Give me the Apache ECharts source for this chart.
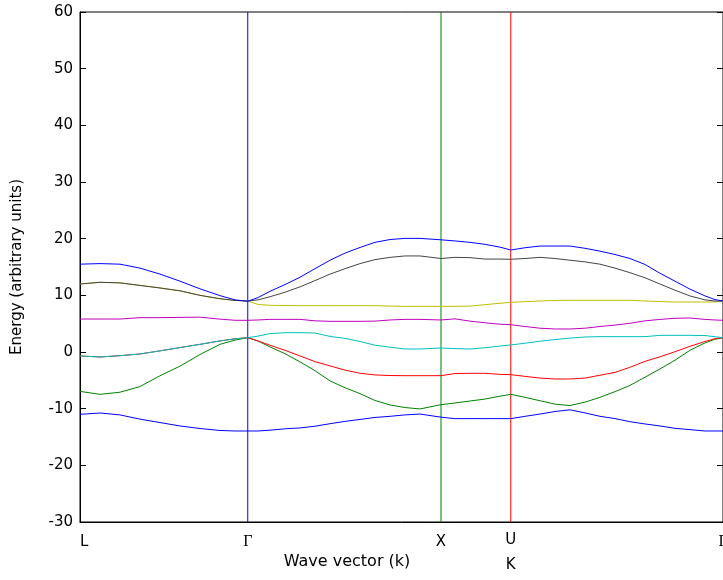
<!DOCTYPE html>
<html>
<head>
<meta charset="utf-8">
<script src="https://cdn.jsdelivr.net/npm/echarts@6/dist/echarts.min.js"></script>
<style>
  html, body { margin: 0; padding: 0; background: #fff; }
  #main { width: 723px; height: 580px; }
</style>
</head>
<body>
<div id="main"></div>
<script>
// path coordinate along L - Γ - X - U|K - Γ
var kPath = [0, 0.102, 0.204, 0.306, 0.408, 0.510, 0.612, 0.714, 0.791, 0.856,
  0.908, 0.969, 1.046, 1.123, 1.199, 1.276, 1.352, 1.429, 1.505, 1.582, 1.658, 1.735, 1.842,
  1.913, 1.990, 2.067, 2.143, 2.198,
  2.271, 2.347, 2.424, 2.500, 2.577, 2.653, 2.730, 2.806, 2.883, 2.959, 3.036, 3.112, 3.189, 3.240, 3.281];
var kTicks = [0, 0.856, 1.842, 2.198, 3.281];
var kLabels = ['L', 'Γ', 'X', 'U\nK', 'Γ'];
var energyTicks = [-30, 60, 10]; // min, max, step

// bands, lowest first
var band1 = [-11.0, -10.76, -11.1, -11.85, -12.45, -13.05, -13.5, -13.85, -13.94, -13.94,
  -13.94, -13.8, -13.55, -13.4, -13.1, -12.65, -12.25, -11.9, -11.55, -11.35, -11.1, -10.95, -11.5,
  -11.76, -11.76, -11.76, -11.76, -11.76,
  -11.35, -10.95, -10.5, -10.2, -10.75, -11.35, -11.75, -12.3, -12.7, -13.05, -13.47, -13.7, -13.94, -13.94, -13.94];
var band2 = [-6.95, -7.47, -7.1, -6.1, -4.2, -2.5, -0.45, 1.35, 2.1, 2.53,
  1.95, 0.9, -0.3, -1.75, -3.3, -5.1, -6.3, -7.35, -8.55, -9.35, -9.8, -10.05, -9.3,
  -9.0, -8.65, -8.3, -7.8, -7.47,
  -8.0, -8.6, -9.2, -9.45, -8.85, -8.0, -7.0, -5.9, -4.45, -3.0, -1.45, 0.3, 1.6, 2.25, 2.53];
var band3 = [-0.7, -0.88, -0.65, -0.35, 0.2, 0.78, 1.35, 1.95, 2.33, 2.53,
  1.95, 1.2, 0.3, -0.7, -1.7, -2.45, -3.2, -3.75, -4.05, -4.15, -4.18, -4.18, -4.18,
  -3.8, -3.76, -3.76, -3.95, -4.0,
  -4.3, -4.6, -4.76, -4.76, -4.6, -4.1, -3.6, -2.7, -1.65, -0.85, 0.05, 1.0, 1.85, 2.35, 2.53];
var band4 = [-0.7, -0.88, -0.65, -0.35, 0.2, 0.78, 1.35, 1.95, 2.33, 2.53,
  2.8, 3.25, 3.41, 3.41, 3.35, 2.75, 2.4, 1.85, 1.2, 0.85, 0.53, 0.53, 0.7,
  0.6, 0.53, 0.75, 1.05, 1.24,
  1.55, 1.9, 2.2, 2.45, 2.65, 2.71, 2.71, 2.71, 2.71, 2.94, 2.94, 2.94, 2.9, 2.7, 2.53];
var band5 = [5.82, 5.82, 5.82, 6.06, 6.06, 6.1, 6.15, 5.8, 5.6, 5.59,
  5.65, 5.76, 5.76, 5.76, 5.5, 5.41, 5.41, 5.41, 5.45, 5.65, 5.76, 5.76, 5.65,
  5.85, 5.45, 5.15, 4.9, 4.82,
  4.5, 4.2, 4.06, 4.06, 4.2, 4.5, 4.75, 5.06, 5.5, 5.75, 5.95, 6.0, 5.75, 5.65, 5.59];
var band6 = [12.0, 12.3, 12.2, 11.75, 11.3, 10.8, 10.0, 9.4, 9.1, 9.0,
  8.4, 8.24, 8.2, 8.18, 8.18, 8.18, 8.18, 8.18, 8.18, 8.1, 8.05, 8.06, 8.06,
  8.06, 8.1, 8.35, 8.6, 8.77,
  8.88, 9.0, 9.1, 9.12, 9.12, 9.12, 9.12, 9.12, 9.0, 8.9, 8.82, 8.82, 8.82, 8.85, 8.9];
var band7 = [12.0, 12.3, 12.2, 11.75, 11.3, 10.8, 10.0, 9.4, 9.1, 9.0,
  9.2, 9.75, 10.55, 11.5, 12.6, 13.75, 14.7, 15.6, 16.3, 16.7, 16.95, 16.95, 16.5,
  16.7, 16.65, 16.4, 16.4, 16.36,
  16.5, 16.7, 16.5, 16.2, 15.9, 15.5, 14.8, 14.0, 13.1, 12.0, 10.9, 9.9, 9.2, 9.0, 9.0];
var band8 = [15.5, 15.6, 15.5, 14.8, 13.75, 12.5, 11.15, 9.95, 9.2, 8.95,
  9.6, 10.7, 11.9, 13.2, 14.7, 16.2, 17.45, 18.45, 19.35, 19.85, 20.05, 20.05, 19.8,
  19.6, 19.35, 19.0, 18.5, 18.0,
  18.4, 18.7, 18.7, 18.7, 18.3, 17.8, 17.2, 16.5, 15.45, 13.9, 12.5, 11.1, 9.9, 9.25, 9.0];

var bands = [band1, band2, band3, band4, band5, band6, band7, band8];
var bandColors = ['#0000ff', '#008000', '#ff0000', '#00bfbf', '#bf00bf', '#bfbf00', '#444444', '#0000ff'];
var divideColors = ['#0000ff', '#008000', '#ff0000']; // at Γ, X, U|K

var mychart = echarts.init(document.getElementById('main'), null, { renderer: 'canvas' });

var series = [];

// vertical dividers at the inner symmetry points
[1, 2, 3].forEach(function (t, i) {
  series.push({
    type: 'line',
    symbol: 'none',
    silent: true,
    animation: false,
    data: [[kTicks[t], energyTicks[0]], [kTicks[t], energyTicks[1]]],
    lineStyle: { color: divideColors[i], width: 1 }
  });
});

bands.forEach(function (b, i) {
  series.push({
    type: 'line',
    symbol: 'none',
    silent: true,
    animation: false,
    data: kPath.map(function (k, j) { return [k, b[j]]; }),
    lineStyle: { color: bandColors[i], width: 1 }
  });
});

var tickFont = 'DejaVu Sans';

var option = {
  backgroundColor: '#fff',
  animation: false,
  grid: {
    left: 80, right: 0, top: 12, bottom: 58,
    outerBoundsMode: 'none',
    containLabel: false,
    show: true, borderColor: '#000', borderWidth: 1
  },
  xAxis: {
    type: 'value',
    min: kTicks[0],
    max: kTicks[kTicks.length - 1],
    axisLine: { show: true, onZero: false, lineStyle: { color: '#000', width: 1 } },
    axisTick: { show: false },
    splitLine: { show: false },
    axisLabel: {
      customValues: kTicks,
      margin: 11,
      alignMinLabel: 'left',
      color: '#000',
      fontSize: 15,
      fontFamily: tickFont,
      lineHeight: 18,
      formatter: function (v) {
        var idx = 0;
        for (var i = 0; i < kTicks.length; i++) {
          if (Math.abs(kTicks[i] - v) < 1e-6) idx = i;
        }
        var s = kLabels[idx];
        if (s === 'Γ') return '{g|Γ}';
        if (s.indexOf('\n') >= 0) {
          var p = s.split('\n');
          return '{u|' + p[0] + '}\n{k|' + p[1] + '}';
        }
        return s;
      },
      rich: {
        g: { fontFamily: 'Liberation Serif', fontSize: 16, color: '#000', lineHeight: 18 },
        u: { fontFamily: tickFont, fontSize: 15, color: '#000', lineHeight: 14 },
        k: { fontFamily: tickFont, fontSize: 15, color: '#000', lineHeight: 36 }
      }
    }
  },
  yAxis: [
    {
      type: 'value',
      min: energyTicks[0],
      max: energyTicks[1],
      interval: energyTicks[2],
      name: 'Energy (arbitrary units)',
      nameLocation: 'middle',
      nameGap: 55,
      nameTextStyle: { color: '#000', fontSize: 15, fontFamily: tickFont },
      axisLine: { show: true, onZero: false, lineStyle: { color: '#000', width: 1 } },
      axisTick: { show: true, inside: true, length: 6, lineStyle: { color: '#000' } },
      splitLine: { show: false },
      axisLabel: { color: '#000', fontSize: 15, fontFamily: tickFont, margin: 7 }
    },
    {
      type: 'value',
      position: 'right',
      min: energyTicks[0],
      max: energyTicks[1],
      interval: energyTicks[2],
      axisLine: { show: true, onZero: false, lineStyle: { color: '#000', width: 1 } },
      axisTick: { show: true, inside: true, length: 6, lineStyle: { color: '#000' } },
      splitLine: { show: false },
      axisLabel: { show: false }
    }
  ],
  graphic: [
    {
      type: 'text',
      x: 347,
      y: 562,
      style: {
        text: 'Wave vector (k)',
        fill: '#000',
        fontSize: 16,
        fontFamily: tickFont,
        align: 'center',
        verticalAlign: 'middle'
      }
    }
  ],
  series: series
};

mychart.setOption(option);
window.addEventListener('resize', function () {
  mychart.resize();
});
</script>
</body>
</html>
